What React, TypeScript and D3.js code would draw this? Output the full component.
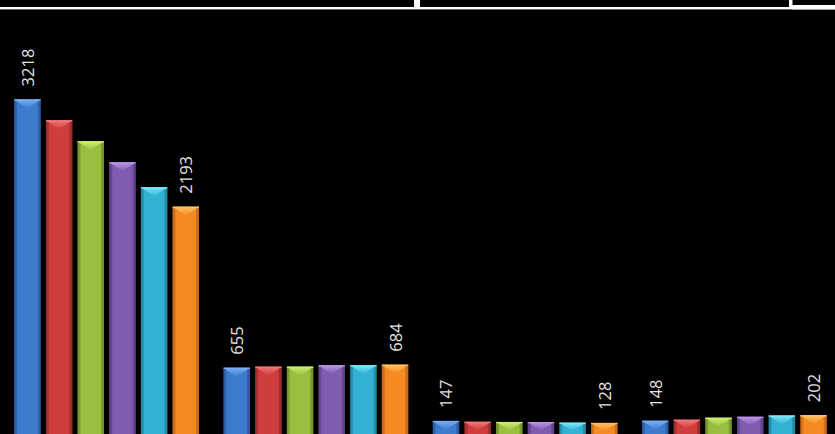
import React, { useEffect } from "react";
import * as d3 from "d3";

const categories = ["A", "B", "C", "D"];
const seriesNames = ["S1", "S2", "S3", "S4", "S5", "S6"];
const s1 = [3218, 655, 147, 148];
const s2 = [3018, 665, 138, 158];
const s3 = [2817, 665, 137, 177];
const s4 = [2617, 678, 136, 186];
const s5 = [2378, 678, 130, 198];
const s6 = [2193, 684, 128, 202];
const seriesValues = [s1, s2, s3, s4, s5, s6];
const labelledSeries = [0, 5];

const colors = [
  { base: "#3d7bcf", light: "#7ab0f2", dark: "#2a5a9e" },
  { base: "#cf3d3d", light: "#f27878", dark: "#9a2a2a" },
  { base: "#98bf3e", light: "#d0ee72", dark: "#6f8f28" },
  { base: "#7f5caf", light: "#b895e6", dark: "#5c3f85" },
  { base: "#33b2d4", light: "#7ae9fa", dark: "#22849f" },
  { base: "#f58a22", light: "#ffc463", dark: "#c0661a" },
];

const W = 835;
const H = 434;

export default function App() {
  useEffect(() => {
    document.body.style.margin = "0";
    document.body.style.background = "#000";
  }, []);

  const x0 = d3
    .scaleBand<string>()
    .domain(categories)
    .range([2, 839])
    .paddingInner(0.117)
    .paddingOuter(0.0585);
  const x1 = d3
    .scaleBand<string>()
    .domain(seriesNames)
    .range([0, x0.bandwidth()])
    .paddingInner(0.165)
    .paddingOuter(0);
  const y = d3.scaleLinear().domain([0, 3500]).range([436.3, 436.3 - 3500 * 0.1047]);

  const bw = x1.bandwidth();

  return (
    <svg width={W} height={H} style={{ display: "block", background: "#000" }}>
      <defs>
        {colors.map((c, i) => (
          <linearGradient key={i} id={`g${i}`} x1="0" x2="1" y1="0" y2="0">
            <stop offset="0" stopColor={c.dark} />
            <stop offset="0.12" stopColor={c.base} />
            <stop offset="0.5" stopColor={c.base} />
            <stop offset="0.88" stopColor={c.base} />
            <stop offset="1" stopColor={c.dark} />
          </linearGradient>
        ))}
        {colors.map((c, i) => (
          <linearGradient key={"t" + i} id={`t${i}`} x1="0" x2="0" y1="0" y2="1">
            <stop offset="0" stopColor={c.light} />
            <stop offset="1" stopColor={c.base} />
          </linearGradient>
        ))}
      </defs>
      <rect x={0} y={0} width={W} height={H} fill="#000" />
      <rect x={0} y={7} width={W} height={2.4} fill="#fff" />
      <rect x={414} y={0} width={6} height={9} fill="#fff" />
      <rect x={789} y={0} width={3.5} height={9} fill="#fff" />
      <rect x={792} y={5} width={43} height={4.4} fill="#fff" />

      {categories.map((cat, ci) => (
        <g key={cat} transform={`translate(${x0(cat)},0)`}>
          {seriesNames.map((sn, si) => {
            const v = seriesValues[si][ci];
            const bx = x1(sn) as number;
            const top = y(v);
            const h = H + 5 - top;
            const d = Math.min(9, h / 2);
            const cx = bx + bw / 2;
            return (
              <g key={sn}>
                <rect x={bx} y={top} width={bw} height={h} fill={`url(#g${si})`} />
                <polygon
                  points={`${bx},${top} ${bx + bw},${top} ${cx},${top + d}`}
                  fill={`url(#t${si})`}
                />
                <polygon
                  points={`${bx},${top} ${bx + 3},${top + 3} ${bx + 3},${H + 5} ${bx},${H + 5}`}
                  fill={colors[si].dark}
                  opacity={0.5}
                />
                <polygon
                  points={`${bx + bw},${top} ${bx + bw - 3},${top + 3} ${bx + bw - 3},${H + 5} ${bx + bw},${H + 5}`}
                  fill={colors[si].dark}
                  opacity={0.6}
                />
                <rect x={bx} y={top} width={bw} height={1.2} fill={colors[si].light} />
                {labelledSeries.includes(si) && (
                  <text
                    transform={`translate(${cx + 6.5},${top - 13}) rotate(-90)`}
                    fill="#e0e0e0"
                    fontFamily="'Open Sans', 'Liberation Sans', sans-serif"
                    fontSize={16.5}
                    textAnchor="start"
                  >
                    {v}
                  </text>
                )}
              </g>
            );
          })}
        </g>
      ))}
    </svg>
  );
}
